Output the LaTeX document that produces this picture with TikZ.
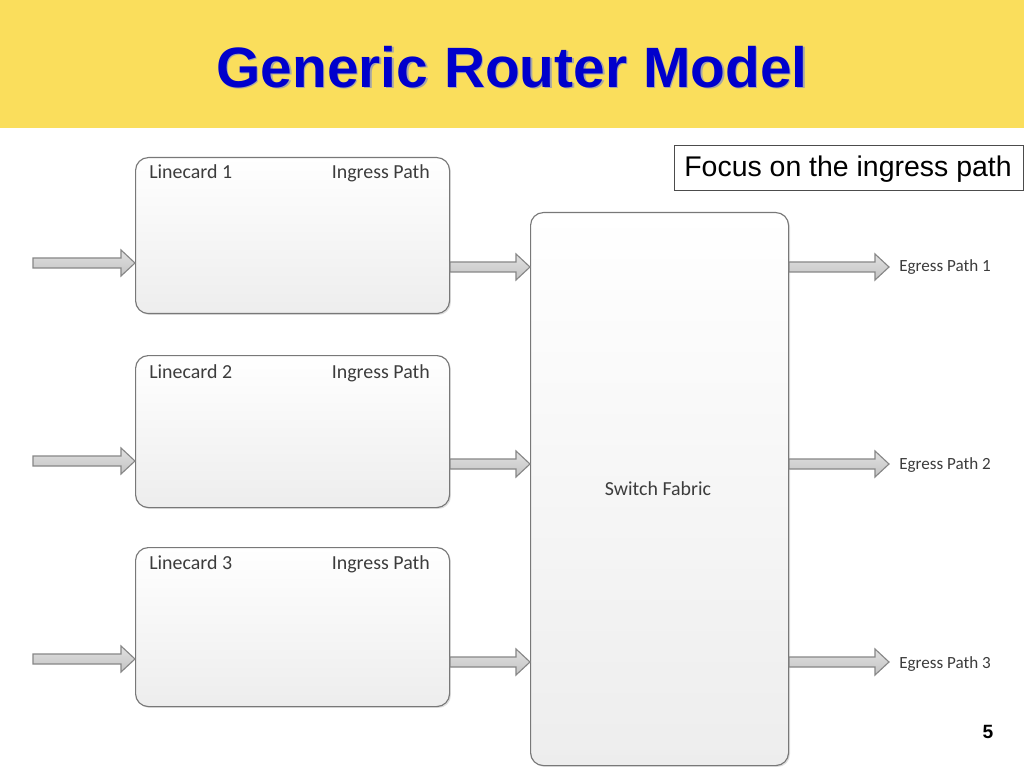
\documentclass[tikz,border=0pt]{standalone}
\usepackage{fontspec}
\setmainfont{Liberation Sans}
\newfontfamily\calfont{Carlito}
\usetikzlibrary{calc,shadows}
\definecolor{band}{RGB}{250,222,92}
\definecolor{ttl}{RGB}{0,0,204}
\definecolor{boxline}{RGB}{120,120,120}
\definecolor{arrline}{RGB}{135,135,135}
\definecolor{arrtop}{RGB}{225,225,225}
\definecolor{arrbot}{RGB}{195,195,195}
\definecolor{txt}{RGB}{60,60,60}
\def\pxu{0.703125pt}
\tikzset{
  card/.style={draw=boxline, line width=0.8pt, rounded corners=9pt,
    top color=white, bottom color=black!7, anchor=north west,
    drop shadow={shadow xshift=1pt,shadow yshift=-1pt,opacity=0.25}},
  lbl/.style={font=\calfont\fontsize{14}{16}\selectfont, text=txt, inner sep=0pt},
  egl/.style={font=\calfont\fontsize{12}{14}\selectfont, text=txt, inner sep=0pt, anchor=west},
  blockarrow/.style={draw=arrline, line width=0.8pt, top color=arrtop, bottom color=arrbot,
    to path={let \p1=(\tikztostart), \p2=(\tikztotarget) in
      (\x1,\y1+5*\pxu) -- (\x2-14*\pxu,\y1+5*\pxu) -- (\x2-14*\pxu,\y1+13*\pxu) -- (\x2,\y1)
      -- (\x2-14*\pxu,\y1-13*\pxu) -- (\x2-14*\pxu,\y1-5*\pxu) -- (\x1,\y1-5*\pxu) -- cycle}}
}
\begin{document}
\begin{tikzpicture}[x=0.703125pt,y=-0.703125pt]
\useasboundingbox (0,0) rectangle (1024,768);
\fill[white] (0,0) rectangle (1024,768);
\fill[band] (0,0) rectangle (1024,128);
% title with shadow
\node[font=\bfseries\fontsize{40}{46}\selectfont, text=black!35, inner sep=0pt] at (513.5,68.5) {Generic Router Model};
\node[font=\bfseries\fontsize{40}{46}\selectfont, text=ttl, inner sep=0pt] (title) at (512,67) {Generic Router Model};

% linecards
\node[card, minimum width=314*\pxu, minimum height=156*\pxu] (lc1) at (135,157) {};
\node[card, minimum width=314*\pxu, minimum height=152*\pxu] (lc2) at (135,355) {};
\node[card, minimum width=314*\pxu, minimum height=159*\pxu] (lc3) at (135,547) {};
\node[card, minimum width=258*\pxu, minimum height=553*\pxu] (sf) at (530,212) {};

\node[lbl, anchor=base west] (lc1a) at (149,179) {Linecard 1};
\node[lbl, anchor=base east] (lc1b) at (430,179) {Ingress Path};
\node[lbl, anchor=base west] (lc2a) at (149,378) {Linecard 2};
\node[lbl, anchor=base east] (lc2b) at (430,378) {Ingress Path};
\node[lbl, anchor=base west] (lc3a) at (149,569) {Linecard 3};
\node[lbl, anchor=base east] (lc3b) at (430,569) {Ingress Path};
\node[lbl] (sfl) at (658,489) {Switch Fabric};

% focus box
\node[draw=black!70, line width=0.8pt, fill=white, anchor=north west, minimum width=349*\pxu, minimum height=45*\pxu,
  inner sep=0pt] (focus) at (674,145) {};
\node[font=\fontsize{20}{22}\selectfont, inner sep=0pt, anchor=base] (focust) at (848,177) {Focus on the ingress path};

% level coordinates
\coordinate (i1) at (33,263);
\coordinate (i2) at (33,461);
\coordinate (i3) at (33,659);
\coordinate (m1) at (0,267);
\coordinate (m2) at (0,464);
\coordinate (m3) at (0,662);
\coordinate (o1) at (889,267);
\coordinate (o2) at (889,464);
\coordinate (o3) at (889,662);

% input arrows
\draw[blockarrow] (i1) to (lc1.west|-i1);
\draw[blockarrow] (i2) to (lc2.west|-i2);
\draw[blockarrow] (i3) to (lc3.west|-i3);
% to switch fabric
\draw[blockarrow] (lc1.east|-m1) to (sf.west|-m1);
\draw[blockarrow] (lc2.east|-m2) to (sf.west|-m2);
\draw[blockarrow] (lc3.east|-m3) to (sf.west|-m3);
% egress
\draw[blockarrow] (sf.east|-o1) to (o1);
\draw[blockarrow] (sf.east|-o2) to (o2);
\draw[blockarrow] (sf.east|-o3) to (o3);

\node[egl] (e1) at (899,267) {Egress Path 1};
\node[egl] (e2) at (899,465) {Egress Path 2};
\node[egl] (e3) at (899,664) {Egress Path 3};

\node[font=\bfseries\fontsize{13.5}{15}\selectfont, inner sep=0pt] (pg) at (988,732) {5};
\end{tikzpicture}
\end{document}
